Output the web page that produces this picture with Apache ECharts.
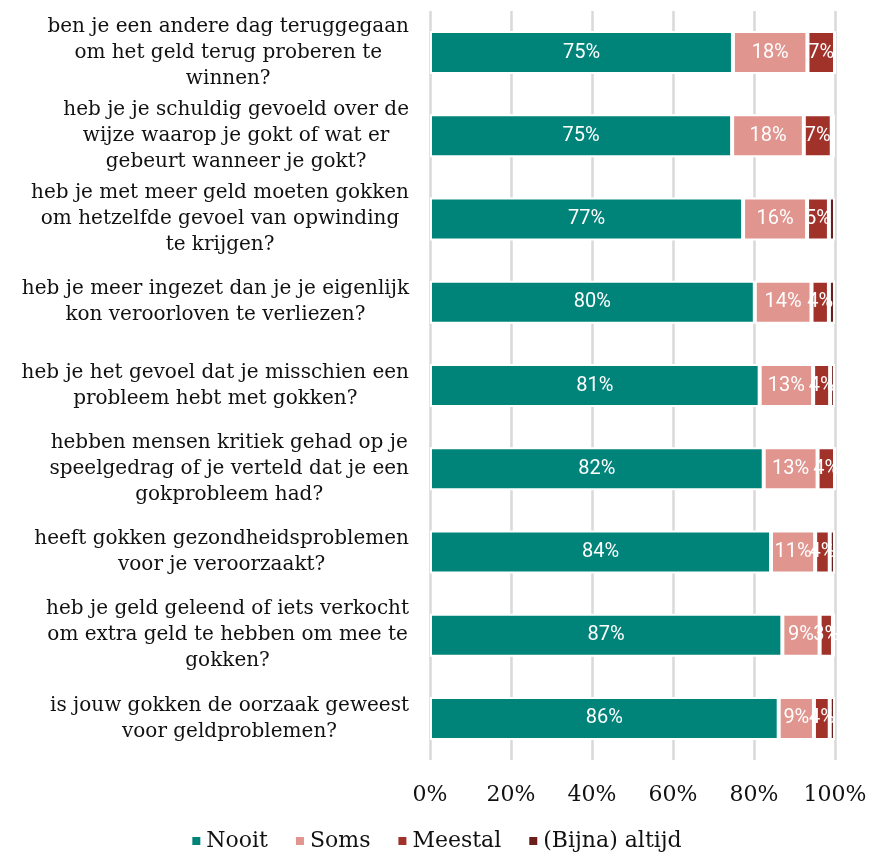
<!DOCTYPE html>
<html>
<head>
<meta charset="utf-8">
<script src="https://cdn.jsdelivr.net/npm/echarts@6/dist/echarts.min.js"></script>
<style>
  html, body { margin: 0; padding: 0; background: #fff; }
  #chart { width: 872px; height: 857px; }
</style>
</head>
<body>
<div id="chart"></div>
<script>
// ==============================================================
// Stacked bar chart - gokgedrag
// ==============================================================
var questions = [
  'ben je een andere dag teruggegaan\nom het geld terug proberen te\nwinnen?',
  'heb je je schuldig gevoeld over de\nwijze waarop je gokt of wat er\ngebeurt wanneer je gokt?',
  'heb je met meer geld moeten gokken\nom hetzelfde gevoel van opwinding\nte krijgen?',
  'heb je meer ingezet dan je je eigenlijk\nkon veroorloven te verliezen?',
  'heb je het gevoel dat je misschien een\nprobleem hebt met gokken?',
  'hebben mensen kritiek gehad op je\nspeelgedrag of je verteld dat je een\ngokprobleem had?',
  'heeft gokken gezondheidsproblemen\nvoor je veroorzaakt?',
  'heb je geld geleend of iets verkocht\nom extra geld te hebben om mee te\ngokken?',
  'is jouw gokken de oorzaak geweest\nvoor geldproblemen?'
];

var nooit    = [74.8, 74.6, 77.3, 80.2, 81.4, 82.4, 84.2, 87.0, 86.1];
var soms     = [18.4, 17.7, 15.8, 14.0, 13.2, 13.3, 10.9, 9.2, 8.7];
var meestal  = [6.8, 6.9, 5.4, 4.3, 4.2, 4.3, 3.6, 3.3, 3.9];
var altijd   = [0.0, 0.8, 1.5, 1.5, 1.2, 0.0, 1.3, 0.5, 1.3];

var tickLabels = ['0%', '20%', '40%', '60%', '80%', '100%'];

var colors = ['#00847a', '#e0958f', '#a0322a', '#6b1f1b'];

var dom = document.getElementById('chart');
var myChart = echarts.init(dom);

function makeSeries(name, data, showLabel) {
  return {
    name: name,
    type: 'bar',
    stack: 'total',
    barWidth: 43,
    data: data,
    itemStyle: { borderColor: '#fff', borderWidth: 2 },
    label: {
      show: showLabel,
      position: 'inside',
      color: '#fff',
      fontFamily: 'Roboto',
      fontWeight: 'normal',
      fontSize: 20,
      formatter: function (p) { return Math.round(p.value) + '%'; }
    }
  };
}

var option = {
  animation: false,
  color: colors,
  grid: { left: 430, right: 37, top: 11, bottom: 97, containLabel: false },
  legend: {
    bottom: 0,
    left: 'center',
    itemWidth: 10,
    itemHeight: 10,
    itemGap: 26,
    icon: 'rect',
    textStyle: { fontFamily: 'DejaVu Serif', fontSize: 22, color: '#111' },
    data: ['Nooit', 'Soms', 'Meestal', '(Bijna) altijd']
  },
  xAxis: {
    type: 'value',
    min: 0,
    max: 100,
    interval: 20,
    axisLine: { show: false },
    axisTick: { show: false },
    splitLine: { show: true, lineStyle: { color: '#d9d9d9', width: 2.5 } },
    axisLabel: {
      margin: 24,
      fontFamily: 'DejaVu Serif',
      fontSize: 22,
      color: '#111',
      formatter: function (v) { return tickLabels[v / 20]; }
    }
  },
  yAxis: {
    type: 'category',
    inverse: true,
    data: questions,
    axisLine: { show: false },
    axisTick: { show: false },
    axisLabel: {
      margin: 21,
      color: '#111',
      lineHeight: 26,
      formatter: function (v) {
        return v.split('\n').map(function (l) { return '{c|' + l + '}'; }).join('\n');
      },
      rich: {
        c: { align: 'center', fontFamily: 'DejaVu Serif', fontSize: 20, lineHeight: 26, color: '#111' }
      }
    }
  },
  series: [
    makeSeries('Nooit', nooit, true),
    makeSeries('Soms', soms, true),
    makeSeries('Meestal', meestal, true),
    makeSeries('(Bijna) altijd', altijd, false)
  ]
};

myChart.setOption(option, true);
</script>
</body>
</html>
